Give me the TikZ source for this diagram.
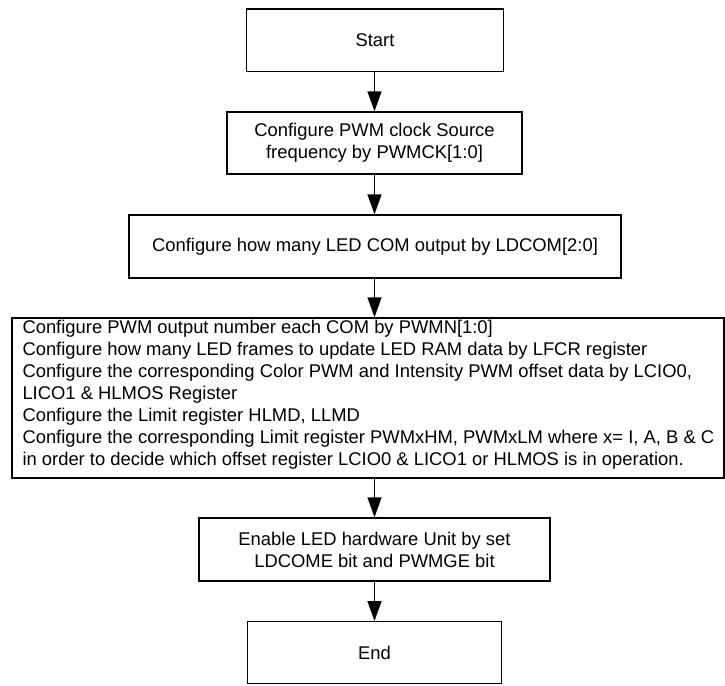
\documentclass[tikz,border=0pt]{standalone}
\usepackage{fontspec}
\setmainfont{Liberation Sans}
\usetikzlibrary{arrows.meta}
\tikzset{
  box/.style={draw, line width=1.4pt, inner sep=0pt, align=center,
    font=\fontsize{18.4}{22}\selectfont},
  plain/.style={inner sep=0pt, align=left, font=\fontsize{18.4}{22}\selectfont},
  flow/.style={line width=1.4pt, -{Triangle[length=20pt,width=14pt]}}
}
\begin{document}
\begin{tikzpicture}[x=1pt,y=-1pt]
\useasboundingbox (0,0) rectangle (725,685);
\node[box, minimum width=257, minimum height=62] (start) at (375,40.2) {Start};
\node[box, minimum width=295, minimum height=62] (clk) at (374.5,143) {Configure PWM clock Source\\frequency by PWMCK[1:0]};
\node[box, minimum width=492, minimum height=63] (com) at (375,246.5) {Configure how many LED COM output by LDCOM[2:0]};
\node[box, minimum width=712, minimum height=160] (cfg) at (368,398) {};
\node[plain, anchor=west, xshift=11pt, yshift=3pt] (cfgtext) at (cfg.west) {Configure PWM output number each COM by PWMN[1:0]\\
Configure how many LED frames to update LED RAM data by LFCR register\\
Configure the corresponding Color PWM and Intensity PWM offset data by LCIO0,\\
LICO1 \& HLMOS Register\\
Configure the Limit register HLMD, LLMD\\
Configure the corresponding Limit register PWMxHM, PWMxLM where x= I, A, B \& C\\
in order to decide which offset register LCIO0 \& LICO1 or HLMOS is in operation.};
\node[box, minimum width=351, minimum height=63] (en) at (374.5,549.5) {Enable LED hardware Unit by set\\LDCOME bit and PWMGE bit};
\node[box, minimum width=254.4, minimum height=61.6] (end) at (374.5,652.5) {End};
\draw[flow] (start.south -| clk.north) -- (clk.north);
\draw[flow] (clk.south) -- (clk.south |- com.north);
\draw[flow] (com.south -| clk.south) -- (clk.south |- cfg.north);
\draw[flow] (cfg.south -| en.north) -- (en.north);
\draw[flow] (en.south) -- (end.north);
\end{tikzpicture}
\end{document}
